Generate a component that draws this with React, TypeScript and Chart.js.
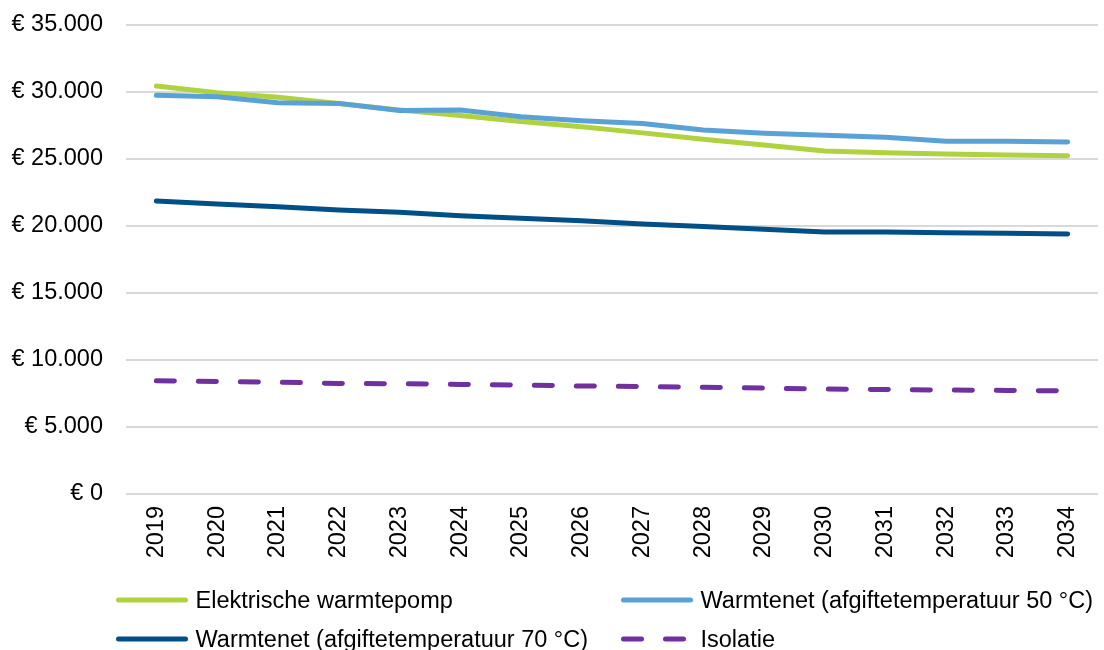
import React, { useEffect, useRef } from "react";
import { Chart, registerables } from "chart.js";

Chart.register(...registerables);

const years = ["2019", "2020", "2021", "2022", "2023", "2024", "2025", "2026", "2027", "2028", "2029", "2030", "2031", "2032", "2033", "2034"];
const warmtepomp = [30450, 29950, 29600, 29150, 28650, 28250, 27800, 27400, 26950, 26480, 26040, 25600, 25470, 25380, 25300, 25250];
const warmtenet50 = [29750, 29650, 29200, 29150, 28620, 28650, 28150, 27850, 27650, 27170, 26920, 26770, 26620, 26320, 26330, 26270];
const warmtenet70 = [21870, 21650, 21440, 21190, 21020, 20770, 20570, 20400, 20150, 19960, 19750, 19550, 19550, 19500, 19450, 19400];
const isolatie = [8450, 8400, 8350, 8250, 8230, 8180, 8130, 8060, 8020, 7970, 7900, 7830, 7800, 7760, 7730, 7700];
const seriesLabels = [
  "Elektrische warmtepomp",
  "Warmtenet (afgiftetemperatuur 50 °C)",
  "Warmtenet (afgiftetemperatuur 70 °C)",
  "Isolatie",
];
const yMin = 0;
const yMax = 35000;
const yStep = 5000;

const FONT = "'Liberation Sans', Arial, sans-serif";
const FONT_SIZE = 23.5;

function formatEuro(v: number): string {
  const s = Math.round(v).toString().replace(/\B(?=(\d{3})+(?!\d))/g, ".");
  return "€ " + s;
}

const legendPlugin = {
  id: "customLegend",
  afterDraw(chart: any) {
    const ctx = chart.ctx;
    const slots = [
      { x: 118.5, y: 600 },
      { x: 623.5, y: 600 },
      { x: 118.5, y: 639 },
      { x: 623.5, y: 639 },
    ];
    ctx.save();
    ctx.font = `${FONT_SIZE}px ${FONT}`;
    ctx.textBaseline = "alphabetic";
    ctx.textAlign = "left";
    chart.data.datasets.forEach((ds: any, i: number) => {
      const s = slots[i];
      ctx.beginPath();
      ctx.strokeStyle = ds.borderColor;
      ctx.lineWidth = ds.borderWidth;
      ctx.lineCap = "round";
      ctx.setLineDash(ds.borderDash || []);
      ctx.moveTo(s.x, s.y);
      ctx.lineTo(s.x + 67, s.y);
      ctx.stroke();
      ctx.setLineDash([]);
      ctx.fillStyle = "#000000";
      ctx.fillText(ds.label, s.x + 77, s.y + 8);
    });
    ctx.restore();
  },
};

export default function App() {
  const canvasRef = useRef<HTMLCanvasElement | null>(null);

  useEffect(() => {
    if (!canvasRef.current) return;
    const lineBase = {
      borderWidth: 5,
      pointRadius: 0,
      pointHoverRadius: 0,
      tension: 0,
      borderCapStyle: "round" as const,
      borderJoinStyle: "round" as const,
      fill: false,
    };
    const chart = new Chart(canvasRef.current, {
      type: "line",
      data: {
        labels: years,
        datasets: [
          { ...lineBase, label: seriesLabels[0], data: warmtepomp, borderColor: "#B1D23F", backgroundColor: "#B1D23F", order: 4 },
          { ...lineBase, label: seriesLabels[1], data: warmtenet50, borderColor: "#5AA2D5", backgroundColor: "#5AA2D5", order: 3 },
          { ...lineBase, label: seriesLabels[2], data: warmtenet70, borderColor: "#004F87", backgroundColor: "#004F87", order: 2 },
          { ...lineBase, label: seriesLabels[3], data: isolatie, borderColor: "#7030A0", backgroundColor: "#7030A0", borderDash: [18, 24], order: 1 },
        ],
      },
      options: {
        responsive: false,
        maintainAspectRatio: false,
        animation: false,
        layout: { padding: { top: 25, right: 6, bottom: 86, left: 0 } },
        plugins: {
          legend: { display: false },
          tooltip: { enabled: false },
          title: { display: false },
        },
        scales: {
          x: {
            type: "category",
            offset: true,
            grid: { display: false },
            border: { display: false },
            ticks: {
              minRotation: 90,
              maxRotation: 90,
              autoSkip: false,
              padding: 4,
              color: "#000000",
              font: { family: FONT, size: FONT_SIZE },
            },
            afterFit(scale: any) {
              scale.height = 70;
            },
          },
          y: {
            min: yMin,
            max: yMax,
            grid: {
              color: "#D9D9D9",
              lineWidth: 2,
              drawTicks: true,
              tickLength: 23,
              tickColor: "rgba(0,0,0,0)",
            },
            border: { display: false },
            ticks: {
              stepSize: yStep,
              padding: 0,
              color: "#000000",
              font: { family: FONT, size: FONT_SIZE },
              callback: (v: any) => formatEuro(Number(v)),
            },
            afterFit(scale: any) {
              scale.width = 126;
            },
          },
        },
      },
      plugins: [legendPlugin],
    });
    return () => chart.destroy();
  }, []);

  return (
    <div style={{ position: "fixed", left: 0, top: 0, width: 1104, height: 650, background: "#ffffff" }}>
      <canvas ref={canvasRef} width={1104} height={650} style={{ display: "block", width: 1104, height: 650 }} />
    </div>
  );
}
